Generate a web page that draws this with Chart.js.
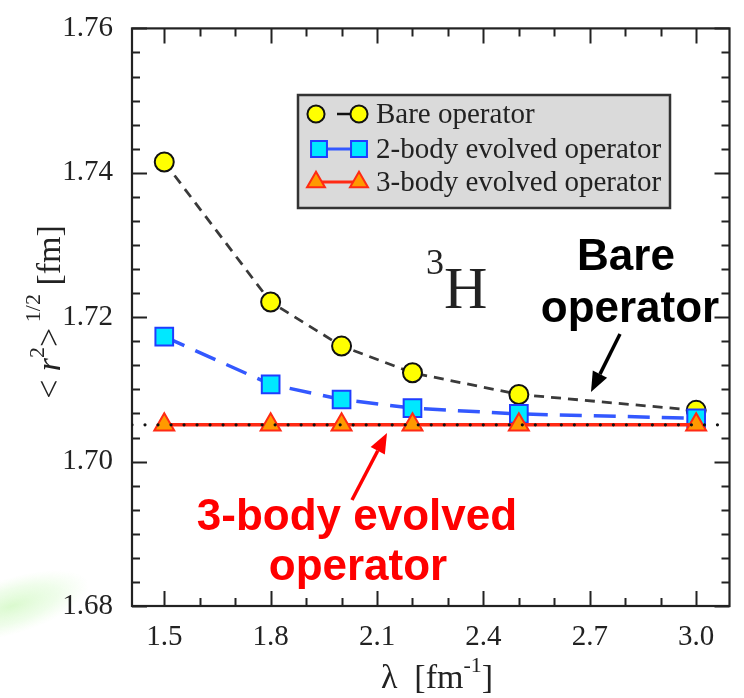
<!DOCTYPE html>
<html><head><meta charset="utf-8">
<script src="https://cdn.jsdelivr.net/npm/chart.js@4.4.1/dist/chart.umd.min.js"></script>
<style>html,body{margin:0;padding:0;background:#fff;}#wrap{width:744px;height:698px;position:relative;}</style>
</head><body><div id="wrap"><canvas id="c" width="744" height="698"></canvas></div>
<script>
// ---- data ----
const lambdas = [1.5, 1.8, 2.0, 2.2, 2.5, 3.0];
const bareOperator = [1.7415, 1.7221, 1.7160, 1.7123, 1.7093, 1.7071];
const twoBodyEvolved = [1.7173, 1.7107, 1.7086, 1.7074, 1.7066, 1.7060];
const threeBodyEvolved = [1.7051, 1.7051, 1.7051, 1.7051, 1.7051, 1.7051];
const exactRadius = 1.7051;
const xTickLabels = [1.5, 1.8, 2.1, 2.4, 2.7, 3.0];
const yTickLabels = [1.68, 1.70, 1.72, 1.74, 1.76];
const legendLabels = ['Bare operator', '2-body evolved operator', '3-body evolved operator'];
const X_MIN = 1.409, X_MAX = 3.094, Y_MIN = 1.68, Y_MAX = 1.76;

const SERIF = '"Liberation Serif", "Times New Roman", serif';
const SANS = '"Liberation Sans", Arial, sans-serif';

const styles = {
  bare: {line:'#3a3a3a', dash:[10,7], width:2.8, ps:'circle', r:9.5, fill:'#ffff00', edge:'#111111'},
  two: {line:'#3358ff', dash:[22,12], width:3.5, ps:'rect', r:12.5, fill:'#00e8ff', edge:'#1f3dff'},
  three: {line:'#ff2a14', dash:[], width:3.5, ps:'triangle', r:11.5, fill:'#ff9900', edge:'#ff2a14'}
};
const pts = (ys) => lambdas.map((x, i) => ({x, y: ys[i]}));

function drawMarker(ctx, st, x, y) {
  ctx.save();
  ctx.fillStyle = st.fill; ctx.strokeStyle = st.edge; ctx.lineWidth = 2; ctx.setLineDash([]);
  ctx.beginPath();
  if (st.ps === 'circle') ctx.arc(x, y, st.r, 0, Math.PI*2);
  else if (st.ps === 'rect') { const s = st.r*Math.SQRT1_2; ctx.rect(x-s, y-s, 2*s, 2*s); }
  else { const r = st.r; ctx.moveTo(x, y-r); ctx.lineTo(x+r*0.866, y+r/2); ctx.lineTo(x-r*0.866, y+r/2); ctx.closePath(); }
  ctx.fill(); ctx.stroke(); ctx.restore();
}

const decor = {
  id: 'decor',
  beforeDraw(chart) {
    const ctx = chart.ctx;
    ctx.save();
    ctx.translate(12, 606); ctx.rotate(-0.3); ctx.scale(1, 0.35);
    const g = ctx.createRadialGradient(0, 0, 0, 0, 0, 80);
    g.addColorStop(0, 'rgba(212,249,198,0.85)');
    g.addColorStop(0.6, 'rgba(220,251,210,0.45)');
    g.addColorStop(1, 'rgba(230,252,220,0)');
    ctx.fillStyle = g; ctx.beginPath(); ctx.arc(0, 0, 80, 0, Math.PI*2); ctx.fill();
    ctx.restore();
  },
  beforeDatasetsDraw(chart) {
    const ctx = chart.ctx, a = chart.chartArea, xs = chart.scales.x, ys = chart.scales.y;
    ctx.save();
    ctx.strokeStyle = '#222'; ctx.lineWidth = 2;
    for (let k = 0; k <= 15; k++) {
      const v = 1.5 + k*0.1;
      const px = Math.round(xs.getPixelForValue(v)) + 0.5;
      const major = xTickLabels.some(t => Math.abs(t - v) < 1e-6);
      const len = major ? 15 : 8;
      ctx.beginPath();
      ctx.moveTo(px, a.bottom); ctx.lineTo(px, a.bottom - len);
      ctx.moveTo(px, a.top); ctx.lineTo(px, a.top + len);
      ctx.stroke();
    }
    for (let k = 0; k <= 24; k++) {
      const v = Y_MIN + k*0.02/6;
      const py = Math.round(ys.getPixelForValue(v)) + 0.5;
      const major = k % 6 === 0;
      const len = major ? 15 : 8;
      ctx.beginPath();
      ctx.moveTo(a.left, py); ctx.lineTo(a.left + len, py);
      ctx.moveTo(a.right, py); ctx.lineTo(a.right - len, py);
      ctx.stroke();
    }
    ctx.lineWidth = 2.2;
    ctx.strokeRect(a.left, a.top, a.right - a.left, a.bottom - a.top);
    ctx.restore();
  },
  afterDraw(chart) {
    const ctx = chart.ctx;
    ctx.save();
    // legend
    const L = 298, T = 95, R = 670, B = 208;
    ctx.fillStyle = '#dadada'; ctx.fillRect(L, T, R-L, B-T);
    ctx.strokeStyle = '#333'; ctx.lineWidth = 2.5; ctx.strokeRect(L, T, R-L, B-T);
    const rows = [[styles.bare, 114], [styles.two, 149], [styles.three, 182]];
    rows.forEach(([st, y], i) => {
      ctx.save();
      ctx.strokeStyle = st === styles.bare ? '#111' : st.line; ctx.lineWidth = st === styles.bare ? 2.5 : 3;
      ctx.beginPath();
      if (st === styles.bare) { ctx.moveTo(337, y); ctx.lineTo(352, y); }
      else { ctx.moveTo(318, y); ctx.lineTo(358, y); }
      ctx.stroke(); ctx.restore();
      const m = Object.assign({}, st, {r: st.r * 0.9});
      drawMarker(ctx, m, i === 1 ? 319 : 316, y);
      drawMarker(ctx, m, 359, y);
      ctx.fillStyle = '#222'; ctx.font = '29px ' + SERIF; ctx.textBaseline = 'middle'; ctx.textAlign = 'left';
      ctx.fillText(legendLabels[i], 376, y + 1);
    });
    // 3H
    ctx.fillStyle = '#222'; ctx.textBaseline = 'alphabetic';
    ctx.font = '36px ' + SERIF; ctx.fillText('3', 426, 274);
    ctx.font = '60px ' + SERIF; ctx.fillText('H', 444, 308);
    // annotations
    ctx.textAlign = 'center';
    ctx.font = 'bold 44px ' + SANS;
    ctx.fillStyle = '#000';
    ctx.fillText('Bare', 626, 270);
    ctx.fillText('operator', 630, 322);
    ctx.fillStyle = '#ff0000';
    ctx.fillText('3-body evolved', 357, 530);
    ctx.fillText('operator', 358, 580);
    const arrow = (x1, y1, x2, y2, col) => {
      const ang = Math.atan2(y2 - y1, x2 - x1), hl = 20, hw = 8;
      const bx = x2 - hl*Math.cos(ang), by = y2 - hl*Math.sin(ang);
      ctx.strokeStyle = col; ctx.fillStyle = col; ctx.lineWidth = 3.5;
      ctx.beginPath(); ctx.moveTo(x1, y1); ctx.lineTo(bx, by); ctx.stroke();
      ctx.beginPath(); ctx.moveTo(x2, y2);
      ctx.lineTo(bx + hw*Math.sin(ang), by - hw*Math.cos(ang));
      ctx.lineTo(bx - hw*Math.sin(ang), by + hw*Math.cos(ang));
      ctx.closePath(); ctx.fill();
    };
    arrow(620, 334, 591, 392, '#000');
    arrow(352, 500, 387, 433, '#ff0000');
    // axis titles
    ctx.fillStyle = '#222'; ctx.textAlign = 'left'; ctx.textBaseline = 'alphabetic';
    const F = 34, S = 22;
    const parts = [
      ['<', F + 'px ' + SERIF, 0], [' ', F + 'px ' + SERIF, 0], ['r', 'italic ' + F + 'px ' + SERIF, 0],
      ['2', S + 'px ' + SERIF, -16], ['>', F + 'px ' + SERIF, 0], [' ', S + 'px ' + SERIF, 0],
      ['1/2', S + 'px ' + SERIF, -20], [' [fm]', F + 'px ' + SERIF, 0]
    ];
    let total = 0;
    parts.forEach(p => { ctx.font = p[1]; total += ctx.measureText(p[0]).width; });
    ctx.save(); ctx.translate(60, 312); ctx.rotate(-Math.PI/2);
    let cx = -total/2;
    parts.forEach(p => { ctx.font = p[1]; ctx.fillText(p[0], cx, p[2]); cx += ctx.measureText(p[0]).width; });
    ctx.restore();
    const xp = [['\u03bb  [fm', F + 'px ' + SERIF, 0], ['-1', S + 'px ' + SERIF, -16], [']', F + 'px ' + SERIF, 0]];
    total = 0; xp.forEach(p => { ctx.font = p[1]; total += ctx.measureText(p[0]).width; });
    cx = 437 - total/2;
    xp.forEach(p => { ctx.font = p[1]; ctx.fillText(p[0], cx, 688 + p[2]); cx += ctx.measureText(p[0]).width; });
    ctx.restore();
  }
};

const ds = (data, st, order) => ({
  data, order, borderColor: st.line, borderDash: st.dash, borderWidth: st.width,
  pointStyle: st.ps, pointRadius: st.r, pointBackgroundColor: st.fill, pointBorderColor: st.edge,
  pointBorderWidth: 2, tension: 0, fill: false, pointHoverRadius: st.r
});

new Chart(document.getElementById('c'), {
  type: 'line',
  data: {
    datasets: [
      { data: [{x: X_MIN, y: exactRadius}, {x: X_MAX, y: exactRadius}], order: 0,
        borderColor: '#111', borderWidth: 3.2, borderDash: [0.01, 13], borderCapStyle: 'round',
        pointRadius: 0, fill: false },
      ds(pts(threeBodyEvolved), styles.three, 1),
      ds(pts(twoBodyEvolved), styles.two, 2),
      ds(pts(bareOperator), styles.bare, 3)
    ]
  },
  options: {
    responsive: false, animation: false, devicePixelRatio: 1,
    layout: {padding: {top: 19, right: 3, left: 0, bottom: 0}},
    plugins: {legend: {display: false}, tooltip: {enabled: false}},
    scales: {
      x: {
        type: 'linear', min: X_MIN, max: X_MAX,
        afterBuildTicks: s => { s.ticks = xTickLabels.map(v => ({value: v})); },
        afterFit: s => { s.height = 92; },
        grid: {display: false}, border: {display: false},
        ticks: {color: '#222', font: {family: SERIF, size: 29}, padding: 6, maxRotation: 0,
          callback: v => Number(v).toFixed(1)}
      },
      y: {
        type: 'linear', min: Y_MIN, max: Y_MAX,
        afterBuildTicks: s => { s.ticks = yTickLabels.map(v => ({value: v})); },
        afterFit: s => { s.width = 132; },
        grid: {display: false}, border: {display: false},
        ticks: {color: '#222', font: {family: SERIF, size: 29}, padding: 11,
          callback: v => Number(v).toFixed(2)}
      }
    }
  },
  plugins: [decor]
});
</script></body></html>
